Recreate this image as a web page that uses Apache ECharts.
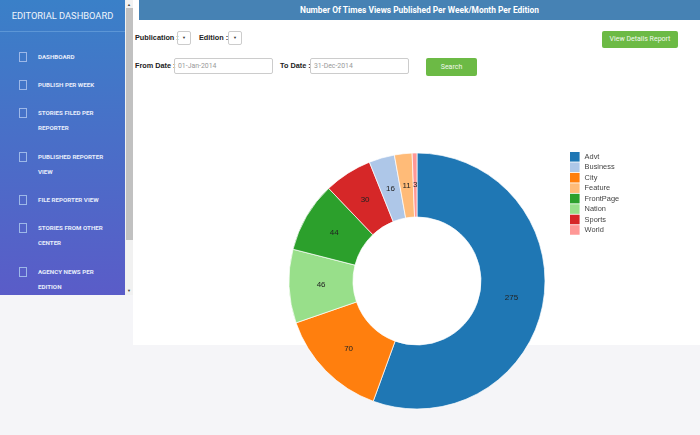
<!DOCTYPE html>
<html>
<head>
<meta charset="utf-8">
<script src="https://cdn.jsdelivr.net/npm/echarts@6/dist/echarts.min.js"></script>
<style>
html, body { margin: 0; padding: 0; width: 700px; height: 435px; overflow: hidden; background: #fff; font-family: Roboto, Arial, sans-serif; }
.abs { position: absolute; }
#foot { left: 0; top: 345px; width: 700px; height: 90px; background: #f5f5f8; }
#footLeft { left: 0; top: 295px; width: 133px; height: 50px; background: #f5f5f8; }
#side { left: 0; top: 0; width: 125px; height: 295px; background: linear-gradient(#3a80c8, #5a5cc8); overflow: hidden; color: #e6ecfa; }
#side .head { position: absolute; left: 0; top: 0; width: 125px; height: 31px; border-bottom: 1px solid #5c96d6; text-align: center; font-size: 9.3px; line-height: 31px; color: #f0f5fc; }
#side .item { position: absolute; left: 38px; width: 72px; font-size: 6.2px; font-weight: 700; line-height: 15.3px; white-space: nowrap; }
#side .box { position: absolute; left: 19px; width: 6px; height: 8px; border: 1px solid #9db8e8; }
#bar { left: 125px; top: 0; width: 8px; height: 295px; background: #f1f1f1; }
#thumb { left: 126px; top: 8px; width: 7px; height: 232px; background: #c1c1c1; }
.arrow { left: 125px; width: 8px; height: 8px; font-size: 4px; line-height: 8px; text-align: center; color: #444; }
#banner { left: 139px; top: 0; width: 561px; height: 20px; background: #4682b4; color: #fff; font-size: 8.4px; font-weight: 700; line-height: 20px; text-align: center; }
.lbl { font-family: "Liberation Sans", Arial, sans-serif; font-size: 7.3px; font-weight: 700; color: #222; white-space: nowrap; line-height: 12px; }
.sel { width: 12px; height: 12px; border: 1px solid #ccc; border-radius: 2px; font-size: 4px; line-height: 12px; text-align: center; color: #333; }
.inp { height: 14px; border: 1px solid #ccc; border-radius: 2px; font-size: 6.9px; line-height: 14px; color: #999; padding-left: 3px; box-sizing: content-box; }
.btn { background: #6cba45; color: #f2f8ee; border-radius: 2px; font-size: 7px; text-align: center; }
#chart { left: 0; top: 0; width: 700px; height: 435px; }
</style>
</head>
<body>
<div class="abs" id="foot"></div>
<div class="abs" id="footLeft"></div>
<div class="abs" id="side"><div class="head">EDITORIAL DASHBOARD</div></div>
<div class="abs" id="bar"></div>
<div class="abs" id="thumb"></div>
<div class="abs arrow" style="top:1px">▲</div>
<div class="abs arrow" style="top:287px">▼</div>
<div class="abs" id="banner">Number Of Times Views Published Per Week/Month Per Edition</div>

<div class="abs lbl" style="left:135px;top:32px">Publication :</div>
<div class="abs sel" style="left:177px;top:31px">▼</div>
<div class="abs lbl" style="left:199px;top:32px">Edition :</div>
<div class="abs sel" style="left:228px;top:31px">▼</div>
<div class="abs lbl" style="left:135px;top:60px">From Date :</div>
<div class="abs inp" style="left:174px;top:58px;width:94px">01-Jan-2014</div>
<div class="abs lbl" style="left:280px;top:60px">To Date :</div>
<div class="abs inp" style="left:310px;top:58px;width:94px">31-Dec-2014</div>
<div class="abs btn" style="left:602px;top:31px;width:76px;height:17px;line-height:17px">View Details Report</div>
<div class="abs btn" style="left:426px;top:58px;width:51px;height:18px;line-height:18px">Search</div>

<div class="abs" id="chart"></div>

<script>
let menuItems = [
    ['DASHBOARD', 49],
    ['PUBLISH PER WEEK', 77],
    ['STORIES FILED PER\nREPORTER', 105],
    ['PUBLISHED REPORTER\nVIEW', 149],
    ['FILE REPORTER VIEW', 192],
    ['STORIES FROM OTHER\nCENTER', 220],
    ['AGENCY NEWS PER\nEDITION', 264]
];

let legendNames = ['Advt', 'Business', 'City', 'Feature', 'FrontPage', 'Nation', 'Sports', 'World'];
let legendColors = ['#1f77b4', '#aec7e8', '#ff7f0e', '#ffbb78', '#2ca02c', '#98df8a', '#d62728', '#ff9896'];

// clockwise from 12 o'clock, same order as the picture
let sliceNames = ['Advt', 'City', 'Nation', 'FrontPage', 'Sports', 'Business', 'Feature', 'World'];
let sliceValues = [275, 70, 46, 44, 30, 16, 11, 3];

let side = document.getElementById('side');
menuItems.forEach(function (m) {
    let box = document.createElement('div');
    box.className = 'box';
    box.style.top = (m[1] + 3) + 'px';
    side.appendChild(box);
    let item = document.createElement('div');
    item.className = 'item';
    item.style.top = (m[1] + 1) + 'px';
    item.innerHTML = m[0].replace('\n', '<br>');
    side.appendChild(item);
});

let colorOf = {};
legendNames.forEach(function (n, i) { colorOf[n] = legendColors[i]; });

let optionPie = {
    animation: false,
    legend: {
        orient: 'vertical',
        left: 570,
        top: 152,
        padding: 0,
        data: legendNames,
        icon: 'rect',
        itemWidth: 9.6,
        itemHeight: 9.6,
        itemGap: 0.85,
        selectedMode: false,
        itemStyle: { borderWidth: 0 },
        textStyle: { fontSize: 7.4, lineHeight: 9, color: '#444', fontFamily: '"Liberation Sans", Arial, sans-serif' }
    },
    series: [
        {
            type: 'pie',
            center: [417, 281],
            radius: [64, 128],
            startAngle: 90,
            avoidLabelOverlap: false,
            itemStyle: { borderColor: '#fff', borderWidth: 0.7 },
            label: { show: false },
            labelLine: { show: false },
            emphasis: { disabled: true },
            data: sliceNames.map(function (n, i) {
                return { name: n, value: sliceValues[i], itemStyle: { color: colorOf[n] } };
            })
        },
        {
            // same slices, only carries the value labels a bit nearer the hole
            type: 'pie',
            center: [417, 281],
            radius: [58, 128],
            startAngle: 90,
            silent: true,
            avoidLabelOverlap: false,
            itemStyle: { color: 'rgba(0,0,0,0)' },
            label: {
                position: 'inside',
                formatter: '{c}',
                fontSize: 8,
                color: '#222',
                fontFamily: '"Liberation Sans", Arial, sans-serif'
            },
            labelLine: { show: false },
            emphasis: { disabled: true },
            data: sliceNames.map(function (n, i) {
                return { name: n, value: sliceValues[i] };
            })
        }
    ]
};

let chartPie = echarts.init(document.getElementById('chart'), null, { renderer: 'canvas' });
chartPie.setOption(optionPie);
</script>
</body>
</html>
